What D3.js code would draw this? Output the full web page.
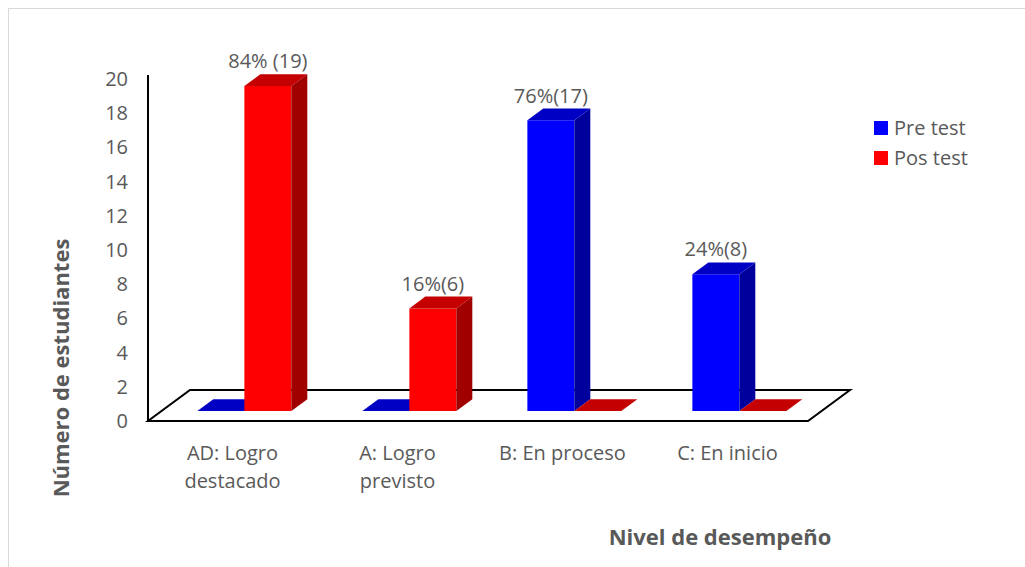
<!DOCTYPE html>
<html lang="es">
<head>
<meta charset="utf-8">
<title>Nivel de desempeño</title>
<script src="https://d3js.org/d3.v7.min.js"></script>
<style>
  body { margin: 0; background: #fff; }
  text { font-family: "Open Sans", "Noto Sans", sans-serif; fill: #595959; }
</style>
</head>
<body>
<div id="chart"></div>
<script>
// data
var categories = [["AD: Logro", "destacado"], ["A: Logro", "previsto"], ["B: En proceso"], ["C: En inicio"]];
var seriesNames = ["Pre test", "Pos test"];
var preTest = [0, 0, 17, 8];
var posTest = [19, 6, 0, 0];
var barLabels = ["84% (19)", "16%(6)", "76%(17)", "24%(8)"];
var yTicks = [0, 2, 4, 6, 8, 10, 12, 14, 16, 18, 20];

var width = 1025, height = 567;
var svg = d3.select("#chart").append("svg")
  .attr("width", width).attr("height", height);

// outer frame (only top/left edges are visible in the original)
svg.append("rect")
  .attr("x", 8.5).attr("y", 8.5)
  .attr("width", 1040).attr("height", 600)
  .attr("fill", "white").attr("stroke", "#d9d9d9");

var floorLeft = 148, floorRight = 808, floorFront = 421;
var depthX = 42, depthY = -31;          // full floor depth
var barZ0 = 0.33, barZ1 = 0.71;          // front / back of the bars inside the floor
var barW = 47;

var catKeys = categories.map(d => d.join(" "));
var x = d3.scaleBand().domain(catKeys).range([floorLeft, floorRight]);
var y = d3.scaleLinear().domain([0, 20]).range([floorFront - 10, floorFront - 10 - 342]);
var yAx = d3.scaleLinear().domain([0, 20]).range([floorFront, floorFront - 342]);

// floor
var floorPts = [
  [floorLeft, floorFront], [floorRight, floorFront],
  [floorRight + depthX, floorFront + depthY], [floorLeft + depthX, floorFront + depthY]
];
svg.append("polygon")
  .attr("points", floorPts.map(p => p.join(",")).join(" "))
  .attr("fill", "white").attr("stroke", "black").attr("stroke-width", 2)
  .attr("stroke-linejoin", "miter");

// y axis
svg.append("line")
  .attr("x1", floorLeft).attr("x2", floorLeft)
  .attr("y1", yAx(20) - 4).attr("y2", floorFront)
  .attr("stroke", "black").attr("stroke-width", 2);

var yAxis = d3.axisLeft(yAx).tickValues(yTicks).tickSize(0).tickPadding(20);
var gy = svg.append("g").attr("transform", `translate(${floorLeft},0)`).call(yAxis);
gy.select(".domain").remove();
gy.selectAll("text").style("font-size", "20px").attr("fill", "#595959")
  .style("font-family", "'Open Sans', sans-serif");

// bars
var colors = {
  "Pre test": { front: "#0000ff", side: "#00009c", top: "#0000c4" },
  "Pos test": { front: "#ff0000", side: "#a00000", top: "#c40000" }
};
var fdx0 = depthX * barZ0, fdy0 = depthY * barZ0;
var ddx = depthX * (barZ1 - barZ0), ddy = depthY * (barZ1 - barZ0);

var bars = [];
catKeys.forEach(function(c, i) {
  var mid = x(c) + x.bandwidth() / 2 + fdx0;
  bars.push({ cat: c, s: "Pre test", v: preTest[i], x0: mid - barW, label: barLabels[i] });
  bars.push({ cat: c, s: "Pos test", v: posTest[i], x0: mid, label: barLabels[i] });
});

function pts(a) { return a.map(p => p.join(",")).join(" "); }

var gb = svg.append("g");
bars.forEach(function(b) {
  var col = colors[b.s];
  var x0 = b.x0, x1 = b.x0 + barW;
  var yb = y(0), yt = y(b.v);
  var g = gb.append("g");
  if (b.v > 0) {
    g.append("polygon").attr("fill", col.front)
      .attr("points", pts([[x0, yb], [x1, yb], [x1, yt], [x0, yt]]));
    g.append("polygon").attr("fill", col.side)
      .attr("points", pts([[x1, yb], [x1 + ddx, yb + ddy], [x1 + ddx, yt + ddy], [x1, yt]]));
  }
  g.append("polygon").attr("fill", col.top)
    .attr("points", pts([[x0, yt], [x1, yt], [x1 + ddx, yt + ddy], [x0 + ddx, yt + ddy]]));
  if (b.v > 0) {
    svg.append("text")
      .attr("x", x0 + barW / 2)
      .attr("y", yt + ddy - 6)
      .attr("text-anchor", "middle")
      .style("font-size", "20px")
      .text(b.label);
  }
});

// category labels
catKeys.forEach(function(c, i) {
  var t = svg.append("text")
    .attr("x", x(c) + x.bandwidth() / 2 + 2)
    .attr("y", 460)
    .attr("text-anchor", "middle")
    .style("font-size", "20px");
  categories[i].forEach(function(line, j) {
    t.append("tspan").attr("x", x(c) + x.bandwidth() / 2 + 2)
      .attr("dy", j === 0 ? 0 : 28).text(line);
  });
});

// axis titles
svg.append("text")
  .attr("transform", "translate(69,368) rotate(-90)")
  .attr("text-anchor", "middle")
  .style("font-size", "22px").style("font-weight", "bold")
  .text("Número de estudiantes");

svg.append("text")
  .attr("x", 720).attr("y", 545)
  .attr("text-anchor", "middle")
  .style("font-size", "22px").style("font-weight", "bold")
  .text("Nivel de desempeño");

// legend
var lg = svg.append("g").attr("transform", "translate(874,121)");
seriesNames.forEach(function(s, i) {
  lg.append("rect").attr("x", 0).attr("y", i * 30)
    .attr("width", 14).attr("height", 14)
    .attr("fill", colors[s].front);
  lg.append("text").attr("x", 20).attr("y", i * 30 + 14)
    .style("font-size", "20px").text(s);
});
</script>
</body>
</html>
